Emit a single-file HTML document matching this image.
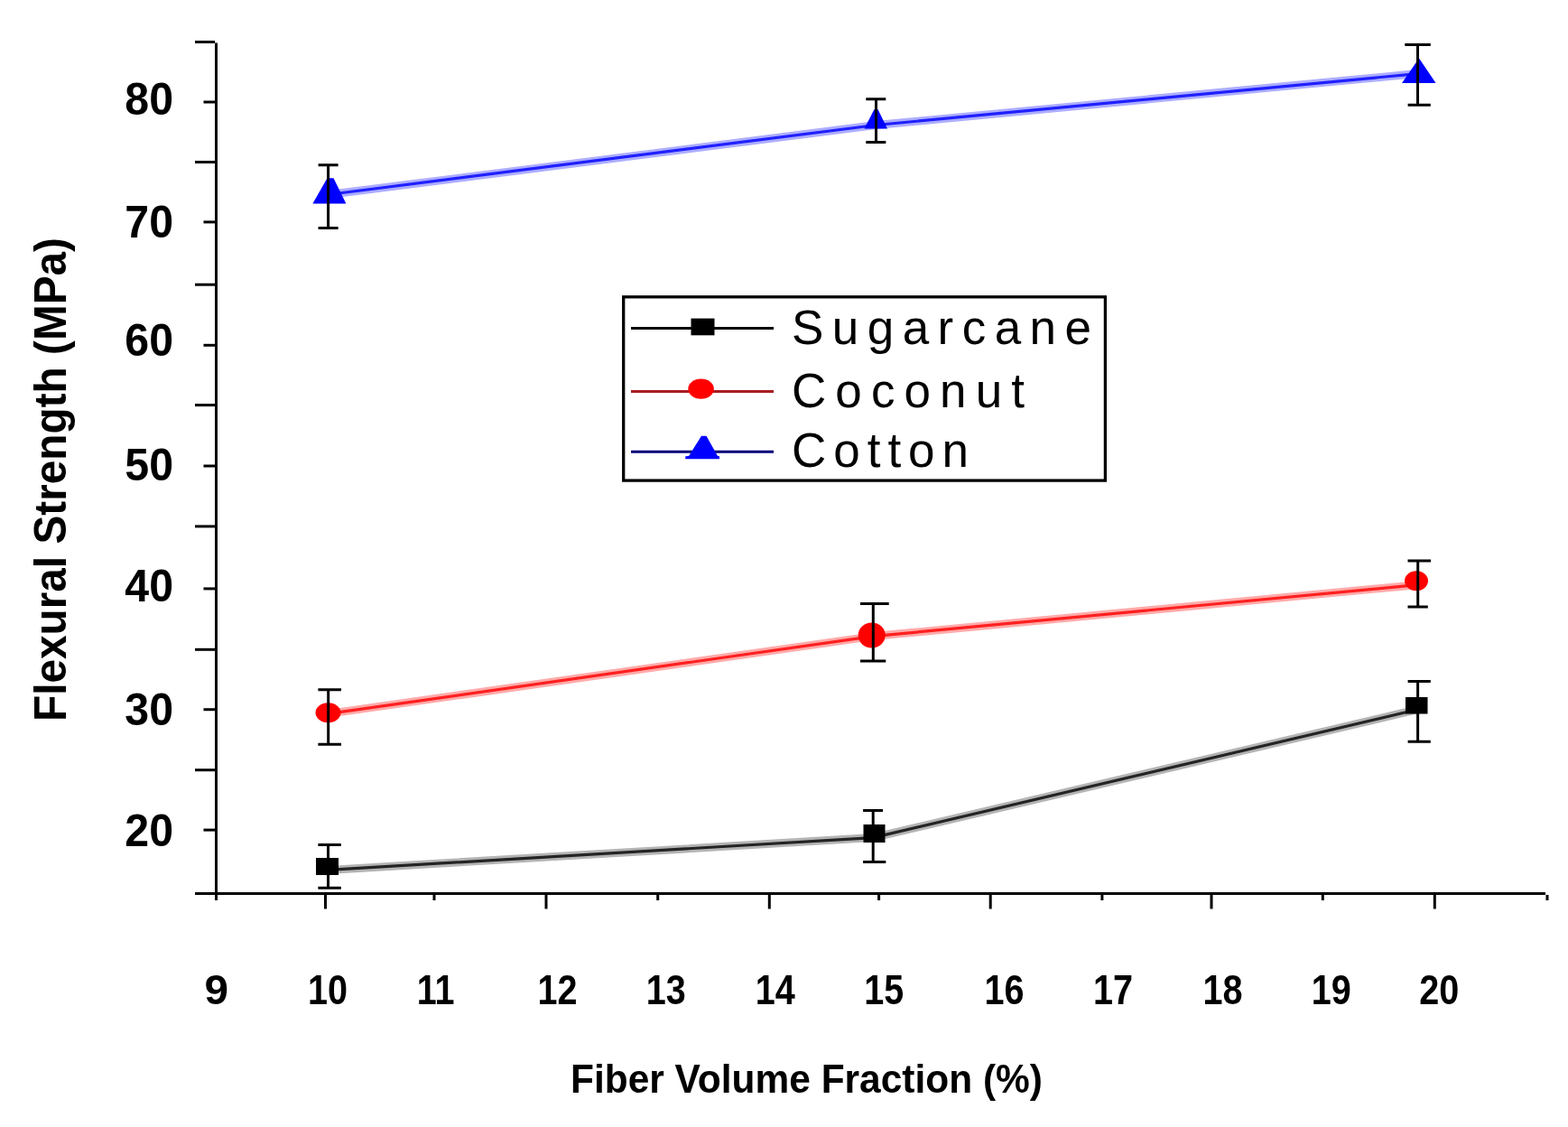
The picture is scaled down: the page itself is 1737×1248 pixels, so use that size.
<!DOCTYPE html>
<html><head><meta charset="utf-8"><title>Flexural Strength</title>
<style>
html,body{margin:0;padding:0;background:#fff;}
body{width:1737px;height:1248px;overflow:hidden;}
svg{display:block;}
.b{font-family:"Liberation Sans",sans-serif;font-weight:bold;fill:#000;}
.r{font-family:"Liberation Sans",sans-serif;font-weight:normal;fill:#000;}
</style></head>
<body>
<svg width="1737" height="1248" viewBox="0 0 1737 1248">
<rect x="0" y="0" width="1737" height="1248" fill="#fff"/>
<!-- axes -->
<g stroke="#000" stroke-width="3" fill="none">
<line x1="239.5" y1="47.5" x2="239.5" y2="991"/>
<line x1="216" y1="989.5" x2="1712" y2="989.5"/>
<!-- y ticks long -->
<line x1="216" y1="46.5" x2="238" y2="46.5"/>
<line x1="216" y1="179.5" x2="239" y2="179.5"/>
<line x1="216" y1="315.2" x2="239" y2="315.2"/>
<line x1="216" y1="448.6" x2="239" y2="448.6"/>
<line x1="216" y1="582.9" x2="239" y2="582.9"/>
<line x1="216" y1="719.3" x2="239" y2="719.3"/>
<line x1="216" y1="852.7" x2="239" y2="852.7"/>
<!-- y ticks short -->
<line x1="225.5" y1="113" x2="239" y2="113"/>
<line x1="225.5" y1="245.9" x2="239" y2="245.9"/>
<line x1="225.5" y1="382.3" x2="239" y2="382.3"/>
<line x1="225.5" y1="516" x2="239" y2="516"/>
<line x1="225.5" y1="651.9" x2="239" y2="651.9"/>
<line x1="225.5" y1="785.7" x2="239" y2="785.7"/>
<line x1="225.5" y1="919.1" x2="239" y2="919.1"/>
<!-- x ticks -->
<line x1="239.5" y1="990" x2="239.5" y2="997"/>
<line x1="360.5" y1="990" x2="360.5" y2="1006.5"/>
<line x1="481" y1="990" x2="481" y2="997"/>
<line x1="605" y1="990" x2="605" y2="1006.5"/>
<line x1="728.7" y1="990" x2="728.7" y2="997"/>
<line x1="852.3" y1="990" x2="852.3" y2="1006.5"/>
<line x1="973.6" y1="990" x2="973.6" y2="997"/>
<line x1="1097.2" y1="990" x2="1097.2" y2="1006.5"/>
<line x1="1220.9" y1="990" x2="1220.9" y2="997"/>
<line x1="1342" y1="990" x2="1342" y2="1006.5"/>
<line x1="1465.3" y1="990" x2="1465.3" y2="997"/>
<line x1="1589.3" y1="990" x2="1589.3" y2="1006.5"/>
<line x1="1714" y1="991" x2="1714" y2="997"/>
</g>
<!-- y tick labels -->
<g class="b" font-size="49.5" text-anchor="end">
<text transform="translate(192,126.6) scale(0.975,1)">80</text>
<text transform="translate(192,263) scale(0.975,1)">70</text>
<text transform="translate(192,393.6) scale(0.975,1)">60</text>
<text transform="translate(192,532.2) scale(0.975,1)">50</text>
<text transform="translate(192,666.3) scale(0.975,1)">40</text>
<text transform="translate(192,802.9) scale(0.975,1)">30</text>
<text transform="translate(192,936.5) scale(0.975,1)">20</text>
</g>
<!-- x tick labels -->
<g class="b" font-size="45.5" text-anchor="middle">
<text transform="translate(239.7,1111.5) scale(1.05,1)">9</text>
<text transform="translate(363.05,1111.5) scale(0.87,1)">10</text>
<text transform="translate(482.7,1111.5) scale(0.87,1)">11</text>
<text transform="translate(617.45,1111.5) scale(0.87,1)">12</text>
<text transform="translate(737.8,1111.5) scale(0.87,1)">13</text>
<text transform="translate(858.7,1111.5) scale(0.87,1)">14</text>
<text transform="translate(979.25,1111.5) scale(0.87,1)">15</text>
<text transform="translate(1112.6,1111.5) scale(0.87,1)">16</text>
<text transform="translate(1233,1111.5) scale(0.87,1)">17</text>
<text transform="translate(1354.4,1111.5) scale(0.87,1)">18</text>
<text transform="translate(1474.85,1111.5) scale(0.87,1)">19</text>
<text transform="translate(1594.35,1111.5) scale(0.87,1)">20</text>
</g>
<!-- axis titles -->
<text class="b" font-size="43.6" x="632" y="1209.6" textLength="523" lengthAdjust="spacingAndGlyphs">Fiber Volume Fraction (%)</text>
<text class="b" font-size="50" transform="translate(73.3,799) rotate(-90)" x="0" y="0" textLength="536" lengthAdjust="spacingAndGlyphs">Flexural Strength (MPa)</text>
<!-- data lines -->
<g fill="none" stroke-linecap="butt" stroke-linejoin="round">
<polyline points="363.5,963.4 967,927.6 1570,785.7" stroke="#b4b4b4" stroke-width="9"/>
<polyline points="363.5,963.4 967,927.6 1570,785.7" stroke="#242424" stroke-width="3.2"/>
<polyline points="363.5,790.4 967,704.6 1570,647.7" stroke="#ffaaaa" stroke-width="9"/>
<polyline points="363.5,790.4 967,704.6 1570,647.7" stroke="#ff2020" stroke-width="3.2"/>
<polyline points="363.5,215.5 970.5,138.5 1570.5,81.6" stroke="#adadff" stroke-width="9"/>
<polyline points="363.5,215.5 970.5,138.5 1570.5,81.6" stroke="#2020ff" stroke-width="3.2"/>
</g>
<!-- markers -->
<g fill="#000">
<rect x="350" y="950" width="25" height="19"/>
<rect x="956.5" y="913" width="24" height="20"/>
<rect x="1557" y="772" width="24.5" height="18.5"/>
</g>
<g fill="#ff0000">
<ellipse cx="363.5" cy="789.3" rx="14" ry="11"/>
<ellipse cx="965.7" cy="703.5" rx="15" ry="14"/>
<ellipse cx="1569" cy="643.3" rx="13" ry="11"/>
</g>
<g fill="#0000ff">
<polygon points="362.5,197.2 369.5,197.2 383.4,225.6 346.4,225.6"/>
<polygon points="968.5,121 972.5,121 983,142.6 957.5,142.6"/>
<polygon points="1572,64.5 1590.6,92 1553,92"/>
</g>
<!-- error bars -->
<g stroke="#000" stroke-width="3" fill="none">
<path d="M363.6,182.7V252.5 M352.6,182.7H374.6 M352.6,252.5H374.6"/>
<path d="M970.5,109.8V157.5 M959.3,109.8H981.3 M959.3,157.5H981.3"/>
<path d="M1570.5,49.5V116.2 M1556.3,49.5H1584.8 M1559.6,116.2H1584.8"/>
<path d="M363.7,763.8V824.2 M352.4,763.8H378 M352.4,824.2H378"/>
<path d="M967.3,668.5V732.1 M953,668.5H984.7 M953,732.1H981.3"/>
<path d="M1570.7,621.1V671.9 M1559.5,621.1H1585 M1559.5,671.9H1581.8"/>
<path d="M363.5,935.5V983.2 M352.4,935.5H377.8 M352.4,983.2H377.8"/>
<path d="M967.2,897.4V954.4 M956.1,897.4H978 M956.1,954.4H981.3"/>
<path d="M1570.6,754.4V821.2 M1559.6,754.4H1584.8 M1559.6,821.2H1584.8"/>
</g>
<!-- legend -->
<rect x="690.7" y="328.8" width="533.7" height="203.3" fill="#fff" stroke="#000" stroke-width="3.3"/>
<g fill="none" stroke-width="3">
<line x1="699" y1="363.5" x2="857" y2="363.5" stroke="#000"/>
<line x1="699" y1="433.4" x2="857" y2="433.4" stroke="#a81c22"/>
<line x1="699" y1="500.3" x2="857" y2="500.3" stroke="#00007a"/>
</g>
<rect x="765.5" y="352.6" width="26" height="18.7" fill="#000"/>
<ellipse cx="776.6" cy="430.6" rx="14.3" ry="11.2" fill="#ff0000"/>
<polygon points="777,482.8 782.5,482.8 795,505 797,505.3 797,508.2 759.3,508.2 759.3,505.3 763,505" fill="#0000ff"/>
<text class="r" font-size="53" x="877" y="380.8" textLength="332" lengthAdjust="spacing">Sugarcane</text>
<text class="r" font-size="53" x="877" y="450.5" textLength="258" lengthAdjust="spacing">Coconut</text>
<text class="r" font-size="53" x="877" y="517" textLength="196" lengthAdjust="spacing">Cotton</text>
</svg>
</body></html>
